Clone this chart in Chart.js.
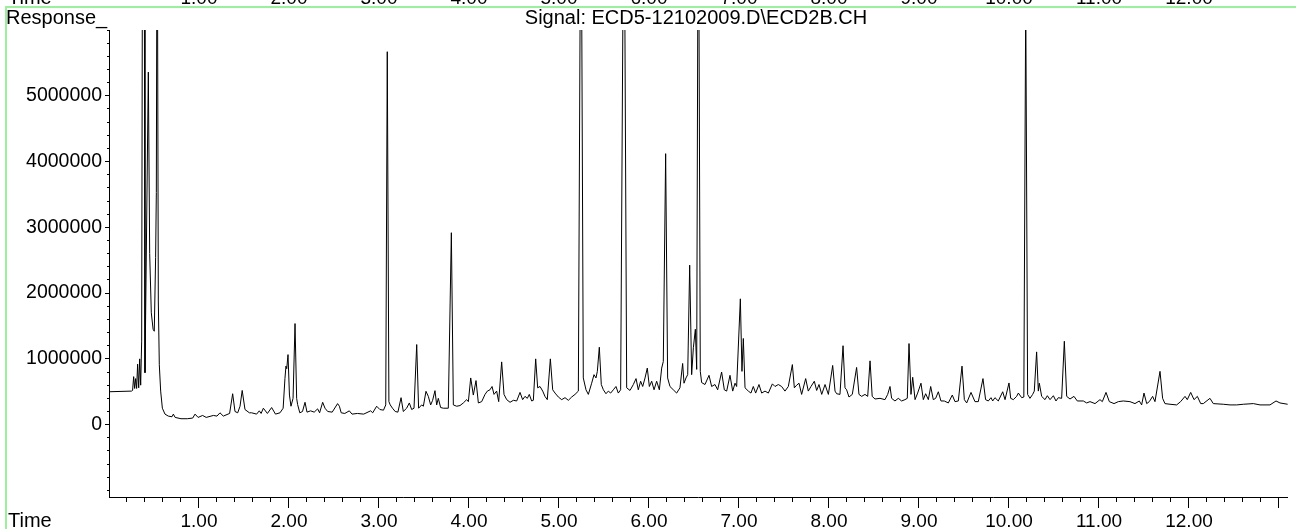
<!DOCTYPE html>
<html>
<head>
<meta charset="utf-8">
<script src="https://cdn.jsdelivr.net/npm/chart.js@4.4.1/dist/chart.umd.min.js"></script>
<style>
html,body{margin:0;padding:0;background:#fff;overflow:hidden}
#c{position:absolute;left:0;top:0}
</style>
</head>
<body>
<canvas id="c" width="1296" height="529"></canvas>
<script>
// ---- data (time in min, response in counts) ----
const times = [
  0.000,0.250,0.262,0.274,0.285,0.296,0.307,0.318,0.330,0.341,0.352,0.363,0.374,0.390,0.400,0.437,0.452,0.470,0.490,0.503,
  0.518,0.526,0.535,0.542,0.548,0.559,0.574,0.593,0.622,0.659,0.700,0.715,0.735,0.800,0.870,0.930,0.956,0.990,1.040,1.080,
  1.160,1.200,1.233,1.270,1.340,1.374,1.400,1.430,1.456,1.480,1.511,1.560,1.585,1.640,1.670,1.690,1.715,1.760,1.807,1.850,
  1.900,1.935,1.955,1.966,1.975,1.989,2.005,2.022,2.045,2.067,2.085,2.096,2.120,2.150,2.178,2.200,2.240,2.280,2.318,2.340,
  2.374,2.400,2.430,2.480,2.540,2.560,2.580,2.620,2.670,2.700,2.760,2.830,2.907,2.930,2.974,3.010,3.050,3.075,3.092,3.110,
  3.125,3.150,3.180,3.210,3.245,3.270,3.307,3.337,3.363,3.389,3.419,3.440,3.474,3.493,3.522,3.548,3.574,3.596,3.622,3.641,
  3.659,3.685,3.715,3.770,3.804,3.826,3.863,3.900,3.937,3.974,3.993,4.019,4.048,4.078,4.104,4.141,4.178,4.204,4.233,4.256,
  4.278,4.307,4.330,4.363,4.389,4.419,4.456,4.493,4.530,4.567,4.596,4.622,4.648,4.670,4.696,4.715,4.741,4.763,4.789,4.819,
  4.844,4.870,4.904,4.930,4.956,4.993,5.030,5.067,5.104,5.141,5.178,5.215,5.244,5.270,5.300,5.326,5.363,5.389,5.411,5.426,
  5.448,5.470,5.493,5.522,5.548,5.574,5.604,5.633,5.659,5.685,5.722,5.752,5.789,5.826,5.856,5.881,5.907,5.930,5.956,5.981,
  6.004,6.030,6.056,6.085,6.115,6.141,6.159,6.185,6.207,6.233,6.270,6.307,6.344,6.374,6.389,6.411,6.430,6.452,6.474,6.493,
  6.515,6.530,6.548,6.570,6.585,6.622,6.667,6.696,6.733,6.763,6.807,6.837,6.863,6.900,6.930,6.956,6.974,7.015,7.033,7.048,
  7.067,7.104,7.133,7.159,7.185,7.222,7.252,7.289,7.326,7.371,7.400,7.437,7.474,7.511,7.548,7.593,7.615,7.641,7.667,7.696,
  7.741,7.770,7.800,7.837,7.863,7.889,7.919,7.956,7.993,8.041,8.067,8.085,8.122,8.156,8.178,8.196,8.222,8.259,8.307,8.333,
  8.363,8.400,8.430,8.456,8.480,8.511,8.567,8.622,8.652,8.678,8.696,8.733,8.770,8.807,8.844,8.870,8.889,8.911,8.930,8.956,
  8.985,9.022,9.048,9.074,9.104,9.130,9.159,9.185,9.215,9.244,9.281,9.326,9.370,9.400,9.437,9.478,9.504,9.530,9.578,9.622,
  9.659,9.711,9.740,9.770,9.800,9.819,9.844,9.881,9.930,9.956,10.000,10.019,10.048,10.085,10.104,10.141,10.165,10.186,10.207,10.233,
  10.263,10.281,10.307,10.326,10.337,10.363,10.400,10.426,10.456,10.493,10.522,10.548,10.585,10.615,10.641,10.678,10.722,10.759,10.826,10.863,
  10.900,10.956,11.011,11.037,11.078,11.115,11.167,11.215,11.270,11.344,11.400,11.448,11.474,11.500,11.530,11.559,11.596,11.622,11.678,11.707,
  11.733,11.789,11.863,11.907,11.956,11.981,12.019,12.056,12.093,12.130,12.159,12.233,12.270,12.381,12.456,12.530,12.604,12.715,12.789,12.900,
  12.967,13.011,13.096
];
const responses = [
  500000,510000,520000,730000,550000,700000,550000,920000,560000,1000000,600000,1270000,9000000,9000000,790000,5360000,2600000,1700000,1450000,1420000,
  2540000,3530000,9000000,9000000,1880000,910000,510000,250000,160000,130000,120000,160000,110000,90000,90000,100000,160000,110000,140000,110000,
  140000,130000,180000,130000,170000,470000,200000,180000,280000,520000,230000,180000,180000,160000,210000,170000,250000,170000,260000,160000,
  180000,250000,700000,890000,850000,1065000,450000,280000,400000,1537000,400000,305000,180000,200000,340000,190000,210000,190000,240000,180000,
  340000,250000,200000,190000,320000,280000,180000,170000,210000,160000,170000,160000,210000,180000,280000,230000,220000,300000,5670000,350000,
  300000,250000,200000,190000,410000,200000,250000,330000,230000,250000,1218000,250000,300000,280000,507000,430000,300000,370000,517000,300000,
  400000,260000,250000,250000,2918000,300000,280000,290000,330000,380000,350000,710000,450000,670000,330000,350000,460000,510000,530000,580000,
  460000,510000,350000,954000,460000,380000,340000,370000,360000,490000,380000,430000,400000,460000,360000,370000,1000000,560000,580000,510000,
  430000,380000,1000000,530000,480000,420000,380000,410000,370000,420000,460000,510000,9000000,710000,530000,460000,630000,760000,710000,810000,
  1177000,610000,530000,470000,510000,480000,530000,580000,480000,530000,9000000,560000,520000,610000,700000,530000,660000,580000,710000,860000,
  580000,660000,530000,660000,530000,860000,960000,4120000,710000,580000,530000,480000,560000,930000,630000,710000,760000,2425000,760000,1170000,
  1450000,840000,9000000,810000,640000,610000,750000,580000,610000,530000,800000,530000,510000,750000,510000,630000,580000,1913000,810000,1310000,
  560000,510000,480000,580000,480000,610000,480000,510000,480000,620000,580000,610000,580000,510000,580000,913000,560000,600000,630000,460000,
  700000,510000,580000,660000,520000,610000,460000,610000,460000,900000,510000,470000,460000,1200000,560000,530000,420000,460000,870000,460000,
  430000,460000,430000,970000,430000,390000,400000,380000,460000,580000,400000,360000,400000,360000,380000,400000,1233000,460000,720000,380000,
  480000,630000,380000,470000,380000,580000,380000,400000,500000,360000,360000,330000,450000,350000,360000,890000,380000,330000,490000,350000,
  350000,700000,380000,360000,410000,360000,410000,360000,500000,380000,634000,400000,380000,430000,480000,410000,420000,6500000,460000,400000,
  460000,510000,1106000,510000,630000,430000,380000,440000,380000,440000,360000,410000,400000,1268000,430000,390000,430000,360000,360000,330000,
  350000,320000,380000,350000,490000,350000,320000,350000,360000,350000,320000,360000,300000,480000,320000,350000,430000,350000,810000,400000,
  320000,310000,300000,350000,430000,380000,490000,380000,430000,320000,320000,400000,320000,310000,300000,300000,310000,320000,300000,300000,
  360000,330000,310000
];

// axis ticks and labels
const xLabelValues = [1,2,3,4,5,6,7,8,9,10,11,12,13];
const xTickLabels  = ['1.00','2.00','3.00','4.00','5.00','6.00','7.00','8.00','9.00','10.00','11.00','12.00',''];
const yLabelValues = [0,1000000,2000000,3000000,4000000,5000000];
const yTickLabels  = ['0','1000000','2000000','3000000','4000000','5000000'];
const xMin = 0, xMax = 13.089;
const yMin = -1100000, yMax = 6000000;
const signalTitle = 'Signal: ECD5-12102009.D\\ECD2B.CH';
const yAxisTitle = 'Response_';
const xAxisTitle = 'Time';

const FONT = 'Arial, "Liberation Sans", sans-serif';
const FS_X = 19, FS_Y = 19.5, FS_T = 20;

const minorX = [];
for (let i = 1; i <= 65; i++) minorX.push(Math.round(i * 2) / 10);
const minorY = [];
for (let i = -5; i <= 30; i++) minorY.push(i * 200000);

const textPlugin = {
  id: 'texts',
  beforeDraw(chart) {
    const ctx = chart.ctx;
    ctx.save();
    ctx.strokeStyle = '#9cf09c';
    ctx.lineWidth = 2;
    ctx.beginPath();
    ctx.moveTo(6, 1296); ctx.lineTo(6, 7); ctx.lineTo(1296, 7);
    ctx.stroke();
    ctx.restore();
  },
  afterDraw(chart) {
    const ctx = chart.ctx;
    const xs = chart.scales.x;
    const a = chart.chartArea;
    ctx.save();
    ctx.fillStyle = '#000';
    ctx.font = FS_T + 'px ' + FONT;
    ctx.textBaseline = 'alphabetic';
    ctx.textAlign = 'left';
    ctx.fillText(yAxisTitle, 6, 24);
    ctx.fillText(xAxisTitle, 8, 527);
    ctx.fillText(xAxisTitle, 8, 4);
    ctx.textAlign = 'center';
    ctx.fillText(signalTitle, (a.left + a.right) / 2 - 2, 24);
    ctx.font = FS_X + 'px ' + FONT;
    xLabelValues.forEach((v, i) => {
      if (xTickLabels[i]) ctx.fillText(xTickLabels[i], xs.getPixelForValue(v), 4);
    });
    ctx.restore();
  }
};

new Chart(document.getElementById('c'), {
  type: 'line',
  data: {
    datasets: [{
      data: times.map((t, i) => ({ x: t, y: responses[i] })),
      borderColor: '#000',
      borderWidth: 1,
      pointRadius: 0,
      tension: 0,
      fill: false,
      clip: { left: 2, right: 2, top: 0, bottom: 2 }
    }]
  },
  options: {
    responsive: false,
    animation: false,
    devicePixelRatio: 1,
    layout: { padding: { left: 0, right: 9, top: 30, bottom: 0 } },
    plugins: { legend: { display: false }, tooltip: { enabled: false }, title: { display: false } },
    scales: {
      x: {
        type: 'linear', position: 'bottom', min: xMin, max: xMax, weight: 1,
        afterFit: s => { s.height = 32; },
        afterBuildTicks: s => { s.ticks = xLabelValues.map(v => ({ value: v })); },
        grid: { drawOnChartArea: false, drawTicks: true, tickLength: 11, tickColor: '#000', tickWidth: 1 },
        border: { display: true, color: '#000', width: 1 },
        ticks: { autoSkip: false, maxRotation: 0, padding: 2, color: '#000', font: { family: FONT, size: FS_X },
                 callback: (v, i) => xTickLabels[i] }
      },
      x2: {
        type: 'linear', position: 'bottom', min: xMin, max: xMax, weight: 0,
        afterFit: s => { s.height = 0; },
        afterBuildTicks: s => { s.ticks = minorX.map(v => ({ value: v })); },
        grid: { drawOnChartArea: false, drawTicks: true, tickLength: 5, tickColor: '#000', tickWidth: 1 },
        border: { display: false },
        ticks: { autoSkip: false, maxRotation: 0, padding: 0, font: { size: 1 }, callback: () => '' }
      },
      y: {
        type: 'linear', position: 'left', min: yMin, max: yMax, weight: 1,
        afterFit: s => { s.width = 109; },
        afterBuildTicks: s => { s.ticks = yLabelValues.map(v => ({ value: v })); },
        grid: { drawOnChartArea: false, drawTicks: true, tickLength: 4, tickColor: '#000', tickWidth: 1 },
        border: { display: true, color: '#000', width: 1 },
        ticks: { autoSkip: false, padding: 3, color: '#000', font: { family: FONT, size: FS_Y },
                 callback: (v, i) => yTickLabels[i] }
      },
      y2: {
        type: 'linear', position: 'left', min: yMin, max: yMax, weight: 0,
        afterFit: s => { s.width = 0; },
        afterBuildTicks: s => { s.ticks = minorY.map(v => ({ value: v })); },
        grid: { drawOnChartArea: false, drawTicks: true, tickLength: 2, tickColor: '#000', tickWidth: 1 },
        border: { display: false },
        ticks: { autoSkip: false, padding: 0, font: { size: 1 }, callback: () => '' }
      }
    }
  },
  plugins: [textPlugin]
});
</script>
</body>
</html>
